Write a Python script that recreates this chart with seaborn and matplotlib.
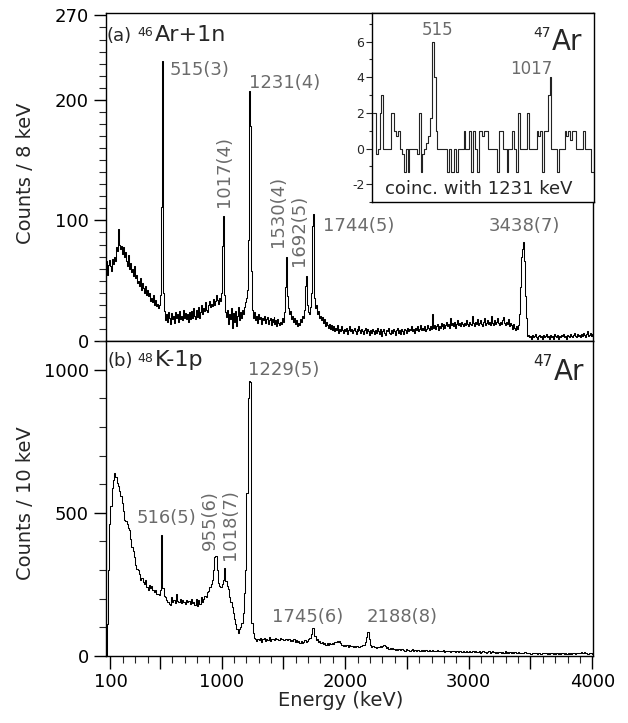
import numpy as np
import pandas as pd
import matplotlib
matplotlib.use("Agg")
import matplotlib.pyplot as plt
import seaborn as sns
from matplotlib.ticker import FixedLocator, MultipleLocator

# ---------------- data ----------------
# (a) 46Ar+1n spectrum, 8 keV bins starting at 60 keV (rows of 10 bins = 80 keV)
TOP_START, TOP_WIDTH = 60, 8
top_counts = [
    60, 66, 55, 63, 67, 62, 58, 68, 64, 70,
    66, 78, 75, 93, 80, 76, 79, 72, 78, 70,
    74, 66, 62, 71, 60, 65, 57, 60, 54, 62,
    52, 55, 48, 50, 46, 52, 42, 48, 44, 40,
    46, 38, 42, 37, 40, 33, 36, 32, 38, 30,
    34, 29, 31, 27, 30, 38, 111, 232, 40, 25,
    17, 22, 16, 24, 19, 14, 23, 18, 21, 15,
    24, 19, 22, 16, 25, 18, 21, 17, 26, 19,
    23, 18, 22, 16, 24, 20, 18, 25, 19, 27,
    21, 18, 26, 20, 28, 19, 24, 30, 22, 27,
    25, 32, 26, 24, 30, 33, 28, 31, 29, 35,
    30, 33, 38, 34, 31, 36, 33, 40, 79, 104,
    38, 24, 20, 26, 14, 22, 18, 27, 11, 23,
    16, 25, 12, 21, 28, 17, 24, 19, 26, 22,
    28, 32, 36, 42, 84, 207, 178, 58, 26, 19,
    24, 17, 21, 15, 22, 18, 20, 14, 19, 17,
    21, 15, 18, 20, 14, 17, 19, 13, 18, 16,
    20, 14, 17, 12, 18, 15, 13, 16, 14, 19,
    16, 24, 45, 70, 37, 27, 22, 25, 18, 21,
    16, 19, 14, 17, 12, 15, 13, 18, 16, 21,
    19, 26, 46, 54, 30, 24, 22, 28, 40, 95,
    105, 36, 27, 30, 22, 25, 19, 21, 17, 20,
    15, 18, 12, 16, 13, 11, 14, 10, 13, 9,
    12, 8, 11, 9, 13, 7, 10, 8, 12, 9,
    7, 10, 8, 11, 6, 9, 12, 8, 10, 7,
    9, 11, 8, 6, 10, 8, 12, 9, 7, 10,
    8, 6, 9, 11, 7, 10, 8, 5, 9, 7,
    10, 8, 6, 9, 7, 11, 8, 6, 10, 4,
    8, 10, 7, 5, 9, 8, 11, 7, 6, 9,
    7, 10, 8, 5, 9, 11, 7, 9, 6, 10,
    8, 6, 10, 9, 7, 11, 8, 10, 9, 12,
    8, 10, 7, 11, 9, 12, 8, 10, 13, 9,
    11, 9, 12, 8, 10, 13, 11, 9, 12, 10,
    22, 11, 13, 10, 12, 14, 9, 12, 11, 15,
    12, 10, 14, 11, 13, 16, 12, 14, 11, 19,
    13, 15, 12, 16, 11, 14, 17, 13, 15, 12,
    16, 14, 12, 15, 13, 17, 14, 12, 16, 14,
    13, 21, 15, 12, 16, 14, 18, 13, 15, 17,
    14, 12, 16, 19, 13, 15, 17, 14, 16, 13,
    21, 15, 13, 17, 14, 16, 19, 15, 13, 16,
    14, 17, 20, 15, 13, 16, 14, 18, 12, 15,
    13, 10, 14, 11, 9, 12, 10, 13, 22, 45,
    70, 76, 82, 66, 37, 19, 6, 4, 5, 3,
    4, 2, 5, 3, 4, 6, 3, 2, 4, 5,
    3, 4, 2, 5, 3, 4, 6, 3, 4, 2,
    5, 3, 4, 2, 6, 4, 3, 5, 2, 4,
    3, 5, 4, 6, 3, 4, 2, 5, 4, 3,
    6, 4, 3, 5, 7, 4, 3, 6, 4, 5,
    3, 6, 4, 7, 5, 3, 6, 8, 4, 5,
    7, 4, 6, 5, 3, 5, 4, 6, 5, 4,
]

# (b) 48K-1p spectrum, 10 keV bins starting at 60 keV (rows of 10 bins = 100 keV)
BOT_START, BOT_WIDTH = 60, 10
bottom_counts = [
    0, 110, 300, 460, 525, 585, 615, 640, 625, 604,
    595, 575, 557, 534, 505, 475, 470, 462, 447, 441,
    410, 382, 365, 347, 318, 302, 300, 285, 266, 272,
    260, 252, 266, 240, 232, 248, 236, 245, 230, 222,
    230, 218, 216, 212, 232, 423, 238, 210, 205, 196,
    188, 182, 178, 205, 190, 196, 185, 215, 192, 188,
    200, 185, 195, 190, 182, 196, 188, 192, 180, 198,
    185, 190, 178, 200, 176, 195, 182, 205, 190, 198,
    210, 205, 225, 228, 240, 250, 265, 300, 345, 348,
    300, 255, 245, 240, 250, 265, 306, 262, 245, 235,
    205, 190, 170, 150, 130, 110, 95, 80, 95, 100,
    115, 150, 220, 300, 570, 900, 960, 955, 115, 80,
    62, 58, 52, 60, 55, 62, 50, 58, 64, 53,
    60, 56, 66, 52, 58, 61, 55, 63, 58, 60,
    57, 62, 59, 61, 56, 60, 58, 55, 60, 52,
    57, 54, 58, 50, 55, 48, 53, 46, 52, 45,
    50, 55, 48, 52, 58, 62, 75, 97, 96, 70,
    55, 58, 48, 52, 44, 50, 42, 47, 40, 45,
    38, 44, 41, 46, 43, 48, 50, 53, 49, 52,
    45, 40, 36, 39, 35, 38, 33, 37, 34, 36,
    32, 35, 31, 34, 30, 33, 36, 34, 38, 40,
    50, 68, 82, 60, 40, 33, 35, 30, 33, 29,
    32, 30, 34, 31, 35, 38, 34, 28, 30, 26,
    28, 25, 27, 24, 22, 25, 21, 24, 20, 23,
    26, 21, 19, 23, 20, 22, 18, 21, 24, 19,
    21, 18, 22, 20, 17, 21, 19, 22, 18, 20,
    17, 19, 21, 18, 20, 16, 19, 17, 21, 18,
    16, 19, 17, 20, 15, 18, 16, 19, 17, 15,
    18, 16, 19, 14, 17, 15, 18, 16, 14, 17,
    15, 13, 16, 14, 17, 15, 13, 16, 14, 18,
    15, 13, 16, 12, 15, 17, 13, 15, 12, 14,
    16, 12, 15, 18, 13, 11, 14, 12, 15, 13,
    11, 14, 12, 16, 11, 13, 10, 14, 12, 15,
    11, 13, 10, 12, 14, 11, 9, 12, 10, 13,
    11, 9, 12, 10, 8, 11, 9, 12, 10, 8,
    11, 9, 7, 10, 12, 9, 11, 8, 10, 7,
    9, 11, 8, 10, 7, 9, 8, 10, 7, 9,
    11, 8, 10, 7, 9, 8, 10, 7, 9, 11,
    8, 10, 9, 12, 10, 13, 11, 15, 12, 10,
    8, 11, 9, 10, 8, 9, 10, 8, 9, 10,
]

# inset: coincidence with 1231 keV, 8 keV bins starting at 250 keV
INS_START, INS_WIDTH = 250, 8
inset_counts = [
    2, 2, -0.3, 0, 2, 3, 0, 0, 0, 0,
    2, 2, 1, 0.7, 1, 0, -0.3, -1.3, 0, -1.3,
    0, 0, 0, 0, -0.3, 2, -1.3, -0.3, 0, 0.3,
    0.7, 1.7, 6, 4, 1, 0, 0, 0, 0, 0,
    -1.3, 0, -1.3, -1.3, 0, -1.3, 0, 0, 0, 1,
    0, 0, 1, -1.3, 1, 0, -1.3, 1, 1, 0.7,
    1, 1, 0, 0, 0, 0, 0, -1.3, 1, 1,
    0, 0, -1.3, 0, 0, 1, 0, -1.3, 2, 0,
    0, 0, 0, 2, 0, 0, 0, 0, 1, 0.7,
    1, -1.3, 1, 1, 3, 4, 0, 0, 0, -1.3,
    0, 0, 0, 1, 0.7, 1, 0.5, 1, 1, 0,
    0, 0, 0, 1, 0, 0, 0, -1.3, -1.3,
]

top_peak_labels = ["515(3)", "1231(4)", "1017(4)", "1530(4)", "1692(5)", "1744(5)", "3438(7)"]
bottom_peak_labels = ["1229(5)", "516(5)", "955(6)", "1018(7)", "1745(6)", "2188(8)"]
inset_peak_labels = ["515", "1017"]

x_major_ticks = [100, 500, 1000, 1500, 2000, 2500, 3000, 3500, 4000]
x_tick_labels = ["100", "", "1000", "", "2000", "", "3000", "", "4000"]
top_y_ticks = [0, 100, 200, 270]
bottom_y_ticks = [0, 500, 1000]
inset_y_ticks = [-2, 0, 2, 4, 6]

# ---------------- layout / style (not data) ----------------
top_label_pos = [(582, 221, 0), (1218, 210, 0), (1020, 111, 90), (1458, 78, 90),
                 (1623, 62, 90), (1822, 91, 0), (3159, 91, 0)]
bottom_label_pos = [(1217, 981, 0), (312, 463, 0), (906, 370, 90), (1068, 335, 90),
                    (1409, 120, 0), (2176, 120, 0)]
inset_label_pos = [(532, 6.37), (932, 4.16)]
GRAY = "#6b6b6b"

sns.set_theme(style="ticks")
plt.rcParams["font.family"] = ["DejaVu Sans"]
plt.rcParams["axes.unicode_minus"] = False
plt.rcParams["axes.linewidth"] = 1.0

df_top = pd.DataFrame({"Energy": TOP_START + TOP_WIDTH * (np.arange(len(top_counts)) + 0.5),
                       "Counts": top_counts})
df_bot = pd.DataFrame({"Energy": BOT_START + BOT_WIDTH * (np.arange(len(bottom_counts)) + 0.5),
                       "Counts": bottom_counts})
df_ins = pd.DataFrame({"Energy": INS_START + INS_WIDTH * (np.arange(len(inset_counts)) + 0.5),
                       "Counts": inset_counts})

fig = plt.figure(figsize=(6.28, 7.23), dpi=100)
L, W = 0.168, 0.777
ax1 = fig.add_axes([L, 0.5284, W, 0.4536])
ax2 = fig.add_axes([L, 0.0927, W, 0.4357])
axi = fig.add_axes([0.5924, 0.7206, 0.3527, 0.2614])

for ax, df in ((ax1, df_top), (ax2, df_bot)):
    sns.lineplot(data=df, x="Energy", y="Counts", ax=ax, color="black", lw=0.75,
                 drawstyle="steps-mid", estimator=None)
    ax.set_xlim(60, 4010)
    ax.xaxis.set_major_locator(FixedLocator(x_major_ticks))
    ax.xaxis.set_minor_locator(MultipleLocator(100))
    ax.tick_params(which="major", direction="out", length=9, width=1.0, labelsize=13, pad=3,
                   colors="black")
    ax.tick_params(which="minor", direction="out", length=5, width=0.8)
    for s in ax.spines.values():
        s.set_visible(True)
        s.set_linewidth(1.0)
        s.set_color("black")

ax1.set_ylim(0, 272)
ax1.yaxis.set_major_locator(FixedLocator(top_y_ticks))
ax1.yaxis.set_minor_locator(MultipleLocator(10))
ax1.tick_params(axis="x", which="both", bottom=False, labelbottom=False)
ax1.set_xlabel("")
ax1.set_ylabel("Counts / 8 keV", fontsize=14)
ax1.yaxis.set_label_coords(-0.145, 0.51)

ax2.set_ylim(0, 1100)
ax2.yaxis.set_major_locator(FixedLocator(bottom_y_ticks))
ax2.yaxis.set_minor_locator(MultipleLocator(100))
ax2.set_xticklabels(x_tick_labels)
ax2.set_xlabel("Energy (keV)", fontsize=14)
ax2.xaxis.set_label_coords(0.483, -0.111)
ax2.set_ylabel("Counts / 10 keV", fontsize=14)
ax2.yaxis.set_label_coords(-0.145, 0.485)

# panel titles
ax1.text(0.003, 0.9146, "(a)", transform=ax1.transAxes, fontsize=13, va="baseline", ha="left")
ax1.text(0.0646, 0.930, "46", transform=ax1.transAxes, fontsize=9, va="baseline", ha="left")
ax1.text(0.1020, 0.9146, "Ar+1n", transform=ax1.transAxes, fontsize=16, va="baseline", ha="left")
ax2.text(0.005, 0.9206, "(b)", transform=ax2.transAxes, fontsize=13, va="baseline", ha="left")
ax2.text(0.0646, 0.934, "48", transform=ax2.transAxes, fontsize=9, va="baseline", ha="left")
ax2.text(0.1020, 0.9206, "K-1p", transform=ax2.transAxes, fontsize=16, va="baseline", ha="left")
ax2.text(0.876, 0.9206, "47", transform=ax2.transAxes, fontsize=11, va="baseline", ha="left")
ax2.text(0.919, 0.876, "Ar", transform=ax2.transAxes, fontsize=20, va="baseline", ha="left")

for lab, (x, y, rot) in zip(top_peak_labels, top_label_pos):
    if rot:
        ax1.text(x, y, lab, rotation=90, ha="center", va="bottom", fontsize=13, color=GRAY)
    else:
        ax1.text(x, y, lab, ha="left", va="baseline", fontsize=13, color=GRAY)
for lab, (x, y, rot) in zip(bottom_peak_labels, bottom_label_pos):
    if rot:
        ax2.text(x, y, lab, rotation=90, ha="center", va="bottom", fontsize=13, color=GRAY)
    else:
        ax2.text(x, y, lab, ha="left", va="baseline", fontsize=13, color=GRAY)

# inset
sns.lineplot(data=df_ins, x="Energy", y="Counts", ax=axi, color="#222222", lw=0.8,
             drawstyle="steps-mid", estimator=None)
axi.set_facecolor("white")
axi.set_xlim(250, 1198)
axi.set_ylim(-3, 7.6)
axi.set_xticks([])
axi.yaxis.set_major_locator(FixedLocator(inset_y_ticks))
axi.yaxis.set_minor_locator(MultipleLocator(1))
axi.tick_params(axis="y", which="major", direction="out", length=4, width=0.8, labelsize=9, pad=1.5)
axi.tick_params(axis="y", which="minor", direction="out", length=2.5, width=0.8)
axi.set_xlabel("")
axi.set_ylabel("")
for s in axi.spines.values():
    s.set_visible(True)
    s.set_linewidth(1.0)
    s.set_color("black")
for lab, (x, y) in zip(inset_peak_labels, inset_label_pos):
    axi.text(x, y, lab, ha="center", va="baseline", fontsize=12, color=GRAY)
axi.text(707, -2.55, "coinc. with 1231 keV", ha="center", va="baseline", fontsize=13)
axi.text(0.727, 0.873, "47", transform=axi.transAxes, fontsize=10, va="baseline", ha="left")
axi.text(0.813, 0.804, "Ar", transform=axi.transAxes, fontsize=20, va="baseline", ha="left")

fig.savefig("out.png", dpi=100)
